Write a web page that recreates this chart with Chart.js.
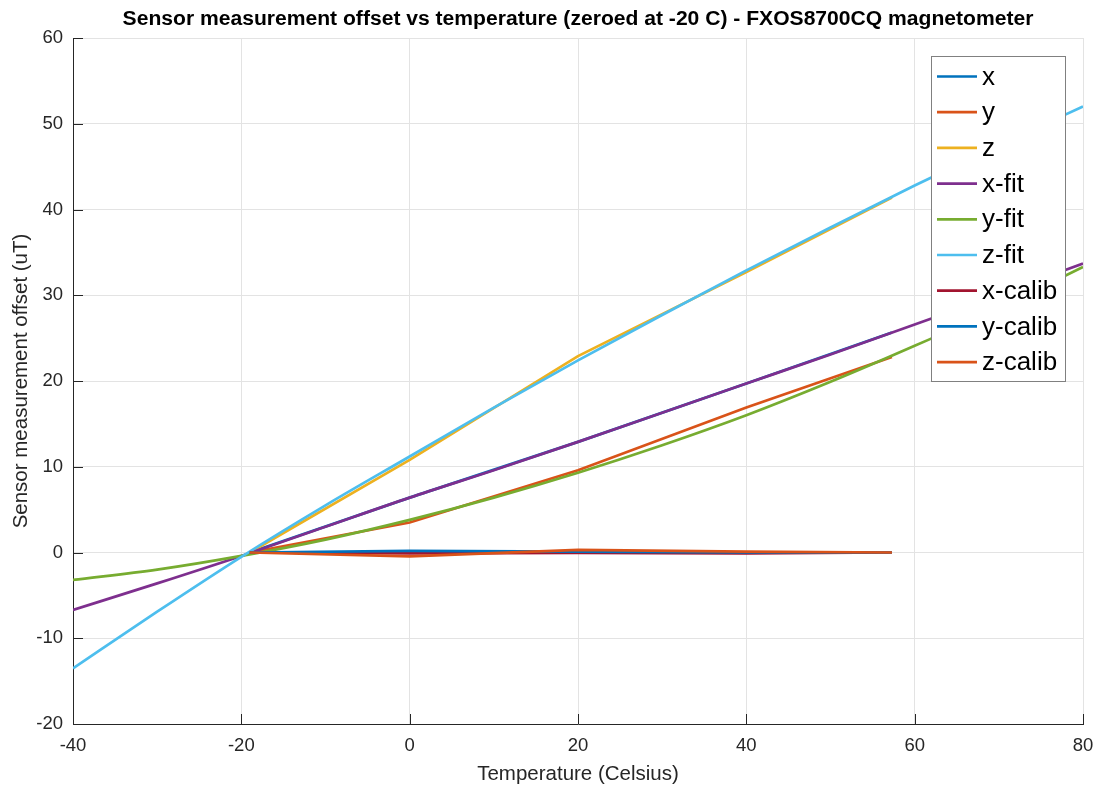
<!DOCTYPE html>
<html>
<head>
<meta charset="utf-8">
<script src="https://cdn.jsdelivr.net/npm/chart.js@4.4.1/dist/chart.umd.min.js"></script>
<style>
  html, body { margin: 0; padding: 0; background: #ffffff; }
  #wrap { width: 1097px; height: 787px; position: relative; }
</style>
</head>
<body>
<div id="wrap"><canvas id="c" width="1097" height="787"></canvas></div>
<script>
// ---- data ----
const chartTitle = 'Sensor measurement offset vs temperature (zeroed at -20 C) - FXOS8700CQ magnetometer';
const xAxisTitle = 'Temperature (Celsius)';
const yAxisTitle = 'Sensor measurement offset (uT)';

const measTemps = [-19, 0, 20, 40, 57.3];
const xMeas  = [0, 6.4, 12.9, 19.7, 25.65];
const yMeas  = [0, 3.5, 9.6, 16.9, 22.8];
const zMeas  = [0, 10.8, 22.9, 32.7, 41.4];

const fitTemps = [-40, -30, -20, -10, 0, 10, 20, 30, 40, 50, 60, 70, 80];
const xFit = [-6.7, -3.6, -0.4, 3.0, 6.4, 9.6, 12.9, 16.3, 19.7, 23.1, 26.6, 30.1, 33.7];
const yFit = [-3.2, -2.0, -0.4, 1.5, 3.8, 6.4, 9.3, 12.5, 16.0, 19.9, 24.1, 28.5, 33.3];
const zFit = [-13.5, -6.9, -0.5, 5.5, 11.2, 16.9, 22.4, 27.7, 32.9, 37.9, 42.8, 47.5, 52.0];

const xCalib = [0, -0.1, -0.05, -0.1, 0];
const yCalib = [0, 0.2, 0.1, 0, 0];
const zCalib = [0, -0.45, 0.3, 0.1, 0];

const xTickValues = [-40, -20, 0, 20, 40, 60, 80];
const yTickValues = [-20, -10, 0, 10, 20, 30, 40, 50, 60];

const seriesNames  = ['x', 'y', 'z', 'x-fit', 'y-fit', 'z-fit', 'x-calib', 'y-calib', 'z-calib'];
const seriesColors = ['#0072BD', '#D95319', '#EDB120', '#7E2F8E', '#77AC30', '#4DBEEE', '#A2142F', '#0072BD', '#D95319'];
const seriesX = [measTemps, measTemps, measTemps, fitTemps, fitTemps, fitTemps, measTemps, measTemps, measTemps];
const seriesY = [xMeas, yMeas, zMeas, xFit, yFit, zFit, xCalib, yCalib, zCalib];
const seriesSmooth = [false, false, false, true, true, true, false, false, false];

// ---- chart ----
const FONT = '"Liberation Sans", Arial, Helvetica, sans-serif';
const AX = '#262626';

const datasets = seriesNames.map((name, i) => ({
  label: name,
  data: seriesX[i].map((t, k) => ({ x: t, y: seriesY[i][k] })),
  borderColor: seriesColors[i],
  backgroundColor: seriesColors[i],
  borderWidth: 2.7,
  pointRadius: 0,
  tension: seriesSmooth[i] ? 0.4 : 0,
  cubicInterpolationMode: seriesSmooth[i] ? 'monotone' : 'default',
  fill: false,
  order: seriesNames.length - i
}));

const insideTicks = {
  id: 'insideTicks',
  beforeDatasetsDraw(chart) {
    const { ctx, chartArea: { left, bottom }, scales: { x, y } } = chart;
    ctx.save();
    ctx.strokeStyle = AX;
    ctx.lineWidth = 1;
    ctx.beginPath();
    xTickValues.forEach(v => {
      const px = Math.round(x.getPixelForValue(v)) + 0.5;
      ctx.moveTo(px, bottom);
      ctx.lineTo(px, bottom - 10);
    });
    yTickValues.forEach(v => {
      const py = Math.round(y.getPixelForValue(v)) + 0.5;
      ctx.moveTo(left, py);
      ctx.lineTo(left + 10, py);
    });
    ctx.stroke();
    ctx.restore();
  }
};

const titleAndLegend = {
  id: 'titleAndLegend',
  afterDraw(chart) {
    const { ctx, chartArea } = chart;
    ctx.save();
    // title
    ctx.fillStyle = '#000000';
    ctx.font = 'bold 21.1px ' + FONT;
    ctx.textAlign = 'center';
    ctx.textBaseline = 'middle';
    ctx.fillText(chartTitle, (chartArea.left + chartArea.right) / 2, 19);

    // legend box
    const bx = 931, by = 56, bw = 134, bh = 325;
    ctx.fillStyle = '#ffffff';
    ctx.fillRect(bx, by, bw, bh);
    ctx.strokeStyle = '#808080';
    ctx.lineWidth = 1;
    ctx.strokeRect(bx + 0.5, by + 0.5, bw, bh);
    ctx.font = '26px ' + FONT;
    ctx.textAlign = 'left';
    ctx.textBaseline = 'middle';
    seriesNames.forEach((name, i) => {
      const cy = 76.5 + i * 35.7;
      ctx.strokeStyle = seriesColors[i];
      ctx.lineWidth = 2.7;
      ctx.beginPath();
      ctx.moveTo(937, cy);
      ctx.lineTo(977, cy);
      ctx.stroke();
      ctx.fillStyle = '#000000';
      ctx.fillText(name, 982, cy + 1);
    });
    ctx.restore();
  }
};

new Chart(document.getElementById('c'), {
  type: 'line',
  data: { datasets },
  options: {
    responsive: false,
    animation: false,
    devicePixelRatio: 1,
    layout: { padding: { top: 38, right: 14, left: 0, bottom: 0 } },
    plugins: {
      legend: { display: false },
      title: { display: false },
      tooltip: { enabled: false }
    },
    scales: {
      x: {
        type: 'linear',
        min: -40, max: 80,
        afterFit(scale) { scale.height = 63; scale.paddingLeft = 0; scale.paddingRight = 0; },
        afterBuildTicks(scale) { scale.ticks = xTickValues.map(v => ({ value: v })); },
        ticks: {
          color: AX,
          font: { family: FONT, size: 18.5 },
          padding: 11,
          maxRotation: 0,
          autoSkip: false
        },
        grid: { color: '#e3e3e3', lineWidth: 1, drawTicks: false },
        border: { display: true, color: AX, width: 1 },
        title: {
          display: true,
          text: xAxisTitle,
          color: AX,
          font: { family: FONT, size: 20.5 },
          padding: { top: 0, bottom: 0 }
        }
      },
      y: {
        type: 'linear',
        min: -20, max: 60,
        afterFit(scale) { scale.width = 73; scale.paddingTop = 0; scale.paddingBottom = 0; },
        afterBuildTicks(scale) { scale.ticks = yTickValues.map(v => ({ value: v })); },
        ticks: {
          color: AX,
          font: { family: FONT, size: 18.5 },
          padding: 10,
          autoSkip: false
        },
        grid: { color: '#e3e3e3', lineWidth: 1, drawTicks: false },
        border: { display: true, color: AX, width: 1 },
        title: {
          display: true,
          text: yAxisTitle,
          color: AX,
          font: { family: FONT, size: 20.5 },
          padding: { top: 9, bottom: 0 }
        }
      }
    }
  },
  plugins: [insideTicks, titleAndLegend]
});
</script>
</body>
</html>
